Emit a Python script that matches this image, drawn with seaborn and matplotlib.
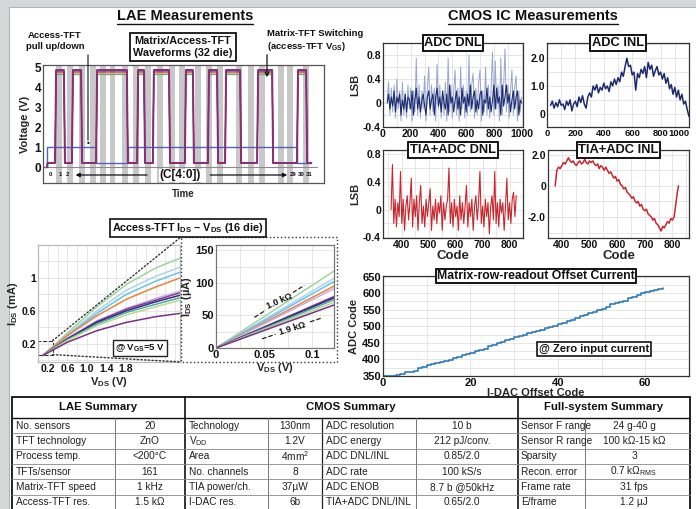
import numpy as np
import pandas as pd
import matplotlib
matplotlib.use("Agg")
import matplotlib.pyplot as plt
import seaborn as sns
from matplotlib import font_manager
from matplotlib.patches import Rectangle, ConnectionPatch
from matplotlib.ticker import AutoMinorLocator

W, H = 696, 509

# LAE waveforms (time axis in % of capture window)
pulse_starts = [4.3, 10.3, 18.9, 33.5, 39.1, 50.5, 58.7, 64.8, 76.2, 90.4]
pulse_ends = [7.8, 13.9, 30.2, 36.3, 45.2, 53.7, 62.3, 70.5, 81.9, 94.0]
pulse_highs = [4.66, 4.62, 4.74, 4.8, 4.85]
pulse_low = 0.2
trace_colors = ["#e0a050", "#6aae6e", "#c24a5a", "#3a3f8a", "#8c2d78"]
gate_t = [0.5, 1.6, 1.6, 18.9, 18.9, 30.2, 30.2, 90.4, 90.4, 95.5]
gate_v = [0, 0, 1, 1, 0.2, 0.2, 1, 1, 0.2, 0.2]
sample_starts = [4.6, 8.5, 12.8, 16.7, 20.3, 23.8, 28.1, 32.0, 36.3, 40.6, 44.8,
                 48.4, 54.1, 58.0, 61.9, 68.7, 73.0, 76.9, 83.6, 86.8, 92.5]

# Access-TFT I-V (16 die, 10 visible traces)
vds_full = [0.1, 0.6, 1.2, 1.8, 2.4, 2.9]
ids_full = [
    [0.06, 0.33, 0.65, 0.92, 1.12, 1.24],
    [0.06, 0.31, 0.60, 0.85, 1.02, 1.13],
    [0.06, 0.30, 0.57, 0.80, 0.96, 1.07],
    [0.06, 0.30, 0.54, 0.74, 0.89, 1.00],
    [0.06, 0.27, 0.48, 0.63, 0.75, 0.84],
    [0.06, 0.26, 0.47, 0.62, 0.73, 0.82],
    [0.06, 0.26, 0.46, 0.60, 0.71, 0.79],
    [0.06, 0.25, 0.44, 0.58, 0.68, 0.76],
    [0.06, 0.24, 0.42, 0.55, 0.65, 0.73],
    [0.06, 0.22, 0.36, 0.46, 0.53, 0.57],
]
vds_zoom = [0.0, 0.123]
ids_zoom_end = [118, 107, 102, 95, 91, 79, 77, 74, 70, 66]
die_colors = ["#9fd49a", "#a9d5ef", "#67c1e6", "#e8833a", "#c7b0e0",
              "#8b3a98", "#2b2d78", "#4fa9a3", "#bcd98e", "#7b2f86"]

# CMOS IC measurements
adc_dnl_light = [0.05, 0.35, -0.2, 0.25, -0.15, 0.3, -0.25, 0.4, -0.1, 0.2,
                 -0.3, 0.35, -0.2, 0.15, -0.25, 0.3, -0.1, 0.25, -0.3, 0.2,
                 -0.15, 0.75, -0.2, 0.3, -0.25, 0.2, -0.1, 0.45, -0.3, 0.25,
                 0.6, -0.2, 0.3, -0.15, 0.25, -0.3, 0.65, -0.1, 0.3, -0.25,
                 0.2, -0.2, 0.35, -0.3, 0.75, -0.15, 0.3, -0.25, 0.2, 0.55,
                 -0.2, 0.25, -0.3, 0.6, -0.1, 0.3, -0.25, 0.2, -0.2, 0.8,
                 -0.15, 0.3, 0.5, -0.25, 0.25, -0.2, 0.35, 0.55, -0.3, 0.2,
                 -0.15, 0.6, -0.2, 0.3, -0.25, 0.25, 0.85, -0.2, 0.7, -0.1,
                 0.3, -0.3, 0.75, -0.2, 0.25, 0.9, -0.15, 0.3, -0.25, 0.2,
                 0.55, -0.2, 0.25, 0.45, -0.3, 0.2, -0.15, 0.1]
adc_dnl_dark = [0.0, 0.15, -0.1, 0.1, -0.05, 0.2, -0.15, 0.1, 0.0, 0.15,
                -0.2, 0.05, -0.1, 0.15, -0.15, 0.1, 0.05, -0.1, 0.2, -0.2,
                0.05, 0.25, -0.1, 0.1, -0.15, 0.05, 0.15, -0.05, -0.2, 0.1,
                0.2, -0.1, 0.05, 0.15, -0.2, 0.1, 0.25, -0.05, 0.1, -0.15,
                0.2, 0.0, -0.1, 0.15, -0.2, 0.3, 0.0, 0.1, -0.15, 0.05,
                0.2, -0.1, 0.1, -0.2, 0.25, 0.0, 0.1, -0.15, 0.15, -0.05,
                0.3, -0.1, 0.1, 0.2, -0.15, 0.05, -0.1, 0.15, 0.2, -0.2,
                0.05, 0.0, 0.25, -0.1, 0.1, -0.15, 0.05, 0.3, -0.1, 0.25,
                0.0, 0.1, -0.2, 0.3, -0.05, 0.1, 0.3, 0.0, 0.15, -0.15,
                0.05, 0.2, -0.1, 0.1, 0.2, -0.2, 0.05, 0.0]
adc_dnl_code0, adc_dnl_step = 30, 10
adc_inl = [0.3, 0.45, 0.2, 0.4, 0.25, 0.5, 0.3, 0.35, 0.15, 0.45,
           0.3, 0.5, 0.1, 0.35, 0.45, 0.25, 0.6, 0.4, 0.65, 0.35,
           0.2, 0.6, 0.75, 0.6, 1.0, 0.85, 1.05, 0.75, 0.95, 0.85,
           1.1, 0.9, 1.0, 0.8, 1.15, 1.0, 1.25, 1.05, 1.3, 1.15,
           1.5, 1.35, 1.7, 2.0, 1.7, 1.75, 1.4, 1.5, 0.85, 1.45,
           1.3, 1.6, 1.45, 1.7, 1.3, 1.85, 1.6, 1.75, 1.35, 1.55,
           1.7, 1.4, 1.5, 1.25, 1.45, 1.1, 1.3, 0.9, 1.05, 0.7,
           0.95, 0.6, 0.85, 0.5, 0.7, 0.35, 0.45, 0.15, -0.1]
adc_inl_code0, adc_inl_step = 25, 12.5
tia_dnl = [0.0, 0.65, -0.2, 0.15, -0.25, 0.1, -0.1, 0.55, -0.2, 0.15,
           -0.3, 0.05, 0.2, -0.15, 0.1, 0.45, -0.25, 0.15, -0.1, 0.2,
           -0.3, 0.1, 0.35, -0.2, 0.05, -0.25, 0.15, -0.1, 0.1, 0.3,
           -0.3, 0.05, -0.15, 0.15, -0.2, 0.1, -0.05, 0.2, -0.3, 0.1,
           -0.15, 0.05, 0.15, 0.6, -0.2, 0.1, -0.25, 0.15, -0.1, 0.05,
           -0.3, 0.2, -0.15, 0.1, -0.2, 0.05, 0.35, -0.25, 0.1, -0.1,
           0.15, -0.3, 0.05, 0.2, -0.15, 0.1, 0.55, -0.2, 0.05, -0.25,
           0.15, -0.1, 0.1, -0.35, 0.05, 0.2, -0.15, 0.55, -0.2, 0.1,
           -0.25, 0.15, -0.05, 0.1, -0.3, 0.05, 0.45, -0.15, 0.1, -0.2,
           0.15, 0.25, -0.1, 0.2]
tia_dnl_code0, tia_dnl_step = 360, 5
tia_inl_code = [376, 382, 388, 394, 400, 406, 412, 418, 424, 430, 436, 441,
                447, 453, 459, 465, 471, 477, 483, 488, 494, 500, 506, 512,
                518, 524, 530, 535, 541, 547, 553, 559, 565, 571, 577, 582,
                588, 594, 600, 606, 612, 618, 624, 630, 636, 641, 647, 653,
                659, 665, 671, 676, 682, 688, 694, 700, 706, 712, 718, 724,
                729, 735, 741, 747, 753, 759, 765, 771, 776, 782, 788, 794,
                800, 806, 812, 818, 822]
tia_inl = [0.0, 1.0, 1.2, 1.1, 1.3, 1.5, 1.4, 1.6, 1.8, 1.6, 1.5, 1.6,
           1.4, 1.3, 1.5, 1.6, 1.4, 1.5, 1.7, 1.5, 1.4, 1.6, 1.5, 1.6,
           1.4, 1.3, 1.4, 1.1, 1.3, 1.2, 1.0, 1.2, 1.0, 0.8, 0.9, 0.7,
           0.5, 0.6, 0.3, 0.4, 0.1, 0.0, -0.2, -0.1, -0.4, -0.5, -0.6, -0.8,
           -0.7, -1.0, -1.1, -1.0, -1.3, -1.2, -1.5, -1.6, -1.5, -1.8, -1.9, -2.0,
           -2.2, -2.1, -2.4, -2.5, -2.7, -2.9, -2.6, -2.7, -2.5, -2.3, -2.4, -2.1,
           -2.2, -2.0, -1.2, -0.4, 0.0]
offset_adc = [350, 350, 351, 352, 357, 361, 362, 366, 374, 377, 382, 385, 389,
              391, 395, 399, 404, 408, 412, 417, 420, 424, 428, 432, 440, 445,
              449, 454, 459, 462, 467, 471, 474, 479, 482, 486, 490, 494, 497,
              502, 506, 511, 515, 520, 525, 530, 534, 540, 544, 548, 553, 559,
              567, 569, 572, 578, 585, 590, 595, 600, 603, 607, 610, 614, 617]

# Summary tables
lae_params = ["No. sensors", "TFT technology", "Process temp.", "TFTs/sensor",
              "Matrix-TFT speed", "Access-TFT res."]
lae_values = ["20", "ZnO", "<200°C", "161", "1 kHz", "1.5 kΩ"]
cmos_params1 = ["Technology", "V$_\\mathregular{DD}$", "Area", "No. channels",
                "TIA power/ch.", "I-DAC res."]
cmos_values1 = ["130nm", "1.2V", "4mm$^\\mathregular{2}$", "8", "37µW", "6b"]
cmos_params2 = ["ADC resolution", "ADC energy", "ADC DNL/INL", "ADC rate",
                "ADC ENOB", "TIA+ADC DNL/INL"]
cmos_values2 = ["10 b", "212 pJ/conv.", "0.85/2.0", "100 kS/s", "8.7 b @50kHz",
                "0.65/2.0"]
full_params = ["Sensor F range", "Sensor R range", "Sparsity", "Recon. error",
               "Frame rate", "E/frame"]
full_values = ["24 g-40 g", "100 kΩ-15 kΩ", "3", "0.7 kΩ$_\\mathregular{RMS}$",
               "31 fps", "1.2 µJ"]

sns.set_theme(style="white")
plt.rcParams["font.family"] = ["Liberation Sans", "DejaVu Sans"]
plt.rcParams["font.weight"] = "bold"
plt.rcParams["axes.labelweight"] = "bold"
plt.rcParams["mathtext.fontset"] = "custom"
plt.rcParams["mathtext.rm"] = "Liberation Sans"
plt.rcParams["mathtext.bf"] = "Liberation Sans:bold"
plt.rcParams["mathtext.default"] = "bf"
plt.rcParams["axes.edgecolor"] = "#333333"
plt.rcParams["text.color"] = "#111111"
plt.rcParams["xtick.color"] = "#111111"
plt.rcParams["ytick.color"] = "#111111"

# narrow face for the summary table if it is installed
try:
    font_manager.findfont("Liberation Sans Narrow", fallback_to_default=False)
    table_font, table_fs = ["Liberation Sans Narrow", "Liberation Sans"], 8.6
except ValueError:
    table_font, table_fs = ["Liberation Sans", "DejaVu Sans"], 7.3

fig = plt.figure(figsize=(W / 100, H / 100), dpi=100)
fig.patch.set_facecolor("#d6d7d9")

bg = fig.add_axes([0, 0, 1, 1], zorder=-5)
bg.set_xlim(0, W); bg.set_ylim(H, 0); bg.axis("off")
bg.add_patch(Rectangle((9, 7), W, H, fc="white", ec="#b5b5b5", lw=0.8))


def px_ax(x0, y0, x1, y1):
    return fig.add_axes([x0 / W, 1 - y1 / H, (x1 - x0) / W, (y1 - y0) / H])


def style(ax, fs=7.5, grid=True):
    ax.tick_params(labelsize=fs, length=2, width=0.6, pad=1.5, direction="in")
    for s in ax.spines.values():
        s.set_linewidth(0.9)
    if grid:
        ax.xaxis.set_minor_locator(AutoMinorLocator(2))
        ax.yaxis.set_minor_locator(AutoMinorLocator(2))
        ax.tick_params(which="minor", length=0)
        ax.grid(True, which="both", color="#e2e2e2", lw=0.6)
        ax.set_axisbelow(True)


def title_box(ax, text, fs=9.3):
    ax.text(0.5, 1.0, text, transform=ax.transAxes, ha="center", va="center",
            fontsize=fs, fontweight="bold", zorder=20,
            bbox=dict(boxstyle="square,pad=0.12", fc="white", ec="black", lw=1.3))


# ---------------- LAE waveform panel ----------------
ax_w = px_ax(43, 65, 324, 183)
ax_w.set_xlim(0, 100)
ax_w.set_ylim(-0.8, 5.1)
for s in sample_starts:
    ax_w.axvspan(s, s + 2.0, color="#c8c8c8", lw=0, zorder=0)
sns.lineplot(x=[0.5, 97.5], y=[0, 0], ax=ax_w, color="#8a8a8a", lw=0.8,
             estimator=None, sort=False)
sns.lineplot(x=gate_t, y=gate_v, ax=ax_w, color="#4a66b8", lw=1.0,
             estimator=None, sort=False)
for high, col in zip(pulse_highs, trace_colors):
    tt, vv = [1.5, 1.6], [0.0, pulse_low]
    for s, e in zip(pulse_starts, pulse_ends):
        tt += [s, s + 0.35, e - 0.35, e]
        vv += [pulse_low, high, high, pulse_low]
    tt.append(95.5); vv.append(pulse_low)
    main = col == "#8c2d78"
    sns.lineplot(x=tt, y=vv, ax=ax_w, color=col, lw=1.4 if main else 0.8,
                 estimator=None, sort=False)
ax_w.set_xticks([])
ax_w.set_yticks([0, 1, 2, 3, 4, 5])
ax_w.set_ylabel("Voltage (V)", fontsize=8, labelpad=3)
ax_w.set_xlabel("Time", fontsize=7, labelpad=4)
style(ax_w, fs=8.5, grid=False)
for s in ax_w.spines.values():
    s.set_color("#555555")
ax_w.text(48.8, -0.42, "(C[4:0])", ha="center", va="center", fontsize=8.5,
          bbox=dict(fc="white", ec="none", pad=0.5))
ax_w.annotate("", xy=(10.6, -0.4), xytext=(38, -0.4),
              arrowprops=dict(arrowstyle="-|>", lw=0.9, color="#111", mutation_scale=6))
ax_w.annotate("", xy=(87.9, -0.4), xytext=(58.5, -0.4),
              arrowprops=dict(arrowstyle="-|>", lw=0.9, color="#111", mutation_scale=6))
for t, lab in zip([2.7, 6.3, 8.8, 89.0, 91.8, 94.7], ["0", "1", "2", "29", "30", "31"]):
    ax_w.text(t, -0.4, lab, ha="center", va="center", fontsize=4.3)

# ---------------- Access-TFT I-V panel ----------------
ax_l = px_ax(38, 245, 180, 362)
rows = []
for i, ys in enumerate(ids_full):
    for x, y in zip(vds_full, ys):
        rows.append((i, x, y))
df_full = pd.DataFrame(rows, columns=["die", "vds", "ids"])
sns.lineplot(data=df_full, x="vds", y="ids", hue="die", palette=die_colors,
             ax=ax_l, lw=1.1, legend=False, estimator=None, sort=False)
ax_l.set_xlim(0, 2.9)
ax_l.set_ylim(-0.02, 1.4)
ax_l.set_xticks([0.2, 0.6, 1.0, 1.4, 1.8])
ax_l.set_xticklabels(["0.2", "0.6", "1.0", "1.4", "1.8"])
ax_l.set_yticks([0.2, 0.6, 1.0])
ax_l.set_yticklabels(["0.2", "0.6", "1"])
ax_l.set_xlabel("V$_{DS}$ (V)", fontsize=8, labelpad=1)
ax_l.set_ylabel("I$_{DS}$ (mA)", fontsize=8, labelpad=1)
style(ax_l, fs=7.5)
for s in ax_l.spines.values():
    s.set_color("#bbbbbb")
ax_l.add_patch(Rectangle((0.0, 0.07), 0.3, 0.17, fill=False, ls="--", lw=0.8, ec="#333"))
ax_l.text(0.72, 0.12, "@ V$_{GS}$=5 V", transform=ax_l.transAxes, ha="center",
          va="center", fontsize=6.8,
          bbox=dict(boxstyle="square,pad=0.2", fc="white", ec="#222", lw=1.0))

ax_i = px_ax(216, 245, 334, 348)
rows = []
for i, yend in enumerate(ids_zoom_end):
    for x, y in zip(vds_zoom, [0, yend]):
        rows.append((i, x, y))
df_zoom = pd.DataFrame(rows, columns=["die", "vds", "ids"])
sns.lineplot(data=df_zoom, x="vds", y="ids", hue="die", palette=die_colors,
             ax=ax_i, lw=1.1, legend=False, estimator=None, sort=False)
ax_i.set_xlim(0, 0.123)
ax_i.set_ylim(0, 158)
ax_i.set_xticks([0, 0.05, 0.1])
ax_i.set_xticklabels(["0", "0.05", "0.1"])
ax_i.set_yticks([0, 50, 100, 150])
ax_i.set_xlabel("V$_{DS}$ (V)", fontsize=8, labelpad=1)
ax_i.set_ylabel("I$_{DS}$ (µA)", fontsize=8, labelpad=1)
style(ax_i, fs=8)
for s in ax_i.spines.values():
    s.set_color("#777777")
for seg in [((0.040, 0.052), (47, 58)), ((0.080, 0.092), (85, 96)),
            ((0.048, 0.062), (14, 21)), ((0.098, 0.110), (40, 46))]:
    ax_i.plot(seg[0], seg[1], color="#222", lw=0.9, ls="--")
ax_i.text(0.066, 72, "1.0 kΩ", rotation=24, ha="center", va="center", fontsize=6.5)
ax_i.text(0.080, 29, "1.9 kΩ", rotation=17, ha="center", va="center", fontsize=6.5)

# ---------------- CMOS panels ----------------
ax_dnl = px_ax(383, 43, 523, 127)
x_dnl = adc_dnl_code0 + adc_dnl_step * np.arange(len(adc_dnl_light))
sns.lineplot(x=x_dnl, y=adc_dnl_light, ax=ax_dnl, color="#98a6cf", lw=0.7,
             estimator=None, sort=False)
x_dnl2 = adc_dnl_code0 + adc_dnl_step * np.arange(len(adc_dnl_dark))
sns.lineplot(x=x_dnl2, y=adc_dnl_dark, ax=ax_dnl, color="#1d2b6e", lw=0.8,
             estimator=None, sort=False)
ax_dnl.set_xlim(0, 1010); ax_dnl.set_ylim(-0.4, 1.0)
ax_dnl.set_xticks([0, 200, 400, 600, 800, 1000])
ax_dnl.set_yticks([-0.4, 0, 0.4, 0.8])
ax_dnl.set_yticklabels(["-0.4", "0", "0.4", "0.8"])
ax_dnl.set_ylabel("LSB", fontsize=8, labelpad=2)
style(ax_dnl)
title_box(ax_dnl, "ADC DNL")

ax_inl = px_ax(547, 43, 689, 127)
x_inl = adc_inl_code0 + adc_inl_step * np.arange(len(adc_inl))
sns.lineplot(x=x_inl, y=adc_inl, ax=ax_inl, color="#1d2b6e", lw=1.1,
             estimator=None, sort=False)
ax_inl.set_xlim(0, 1000); ax_inl.set_ylim(-0.48, 2.55)
ax_inl.set_xticks([0, 200, 400, 600, 800, 1000])
ax_inl.set_yticks([0, 1, 2])
ax_inl.set_yticklabels(["0", "1.0", "2.0"])
ax_inl.set_xlabel(""); ax_inl.set_ylabel("")
style(ax_inl)
ax_inl.tick_params(axis="x", labelsize=6.8)
ax_inl.get_xticklabels()[-1].set_horizontalalignment("right")
title_box(ax_inl, "ADC INL")

ax_tdnl = px_ax(383, 150, 523, 238)
x_tdnl = tia_dnl_code0 + tia_dnl_step * np.arange(len(tia_dnl))
sns.lineplot(x=x_tdnl, y=tia_dnl, ax=ax_tdnl, color="#c9252c", lw=0.8,
             estimator=None, sort=False)
ax_tdnl.set_xlim(330, 850); ax_tdnl.set_ylim(-0.41, 0.86)
ax_tdnl.set_xticks([400, 500, 600, 700, 800])
ax_tdnl.set_yticks([-0.4, 0, 0.4, 0.8])
ax_tdnl.set_yticklabels(["-0.4", "0", "0.4", "0.8"])
ax_tdnl.set_ylabel("LSB", fontsize=8, labelpad=2)
ax_tdnl.set_xlabel("Code", fontsize=9.5, labelpad=0)
style(ax_tdnl)
title_box(ax_tdnl, "TIA+ADC DNL")

ax_tinl = px_ax(548, 150, 689, 238)
sns.lineplot(x=tia_inl_code, y=tia_inl, ax=ax_tinl, color="#c9252c", lw=1.1,
             estimator=None, sort=False)
ax_tinl.set_xlim(350, 860); ax_tinl.set_ylim(-3.35, 2.3)
ax_tinl.set_xticks([400, 500, 600, 700, 800])
ax_tinl.set_yticks([-2, 0, 2])
ax_tinl.set_yticklabels(["-2.0", "0", "2.0"])
ax_tinl.set_xlabel("Code", fontsize=9.5, labelpad=0)
ax_tinl.set_ylabel("")
style(ax_tinl)
title_box(ax_tinl, "TIA+ADC INL")

ax_off = px_ax(383, 276, 689, 376)
sns.lineplot(x=np.arange(len(offset_adc)), y=offset_adc, ax=ax_off,
             color="#2f7bbd", lw=1.2, drawstyle="steps-post",
             estimator=None, sort=False)
ax_off.set_xlim(0, 70); ax_off.set_ylim(350, 652)
ax_off.set_xticks([0, 20, 40, 60])
ax_off.set_yticks([350, 400, 450, 500, 550, 600, 650])
ax_off.set_xlabel("I-DAC Offset Code", fontsize=8, labelpad=0)
ax_off.set_ylabel("ADC Code", fontsize=8, labelpad=2)
style(ax_off, fs=8)
title_box(ax_off, "Matrix-row-readout Offset Current", fs=8.8)
ax_off.text(0.69, 0.27, "@ Zero input current", transform=ax_off.transAxes,
            ha="center", va="center", fontsize=8,
            bbox=dict(boxstyle="square,pad=0.2", fc="white", ec="black", lw=1.1))

# ---------------- overlay: titles, annotations, tables ----------------
ov = fig.add_axes([0, 0, 1, 1], zorder=10)
ov.set_xlim(0, W); ov.set_ylim(H, 0); ov.axis("off"); ov.patch.set_alpha(0)

t1 = ov.text(185, 16, "LAE Measurements", ha="center", va="center", fontsize=10.5)
t2 = ov.text(533, 16, "CMOS IC Measurements", ha="center", va="center", fontsize=10.5)
ov.text(55, 41, "Access-TFT\npull up/down", ha="center", va="center",
        fontsize=6.8, linespacing=1.15)
ov.text(183, 47, "Matrix/Access-TFT\nWaveforms (32 die)", ha="center", va="center",
        fontsize=7.8, linespacing=1.15,
        bbox=dict(boxstyle="square,pad=0.3", fc="white", ec="#111", lw=1.3))
ov.text(267, 41, "Matrix-TFT Switching\n(access-TFT V$_{GS}$)", ha="left",
        va="center", fontsize=6.8, linespacing=1.15)
ov.annotate("", xy=(88, 143), xytext=(88, 52),
            arrowprops=dict(arrowstyle="-", lw=0.8, color="#111"))
ov.text(88, 143, "•", ha="center", va="center", fontsize=6)
ov.annotate("", xy=(267, 80), xytext=(267, 52),
            arrowprops=dict(arrowstyle="->", lw=0.9, color="#111", mutation_scale=7))

ov.text(188, 228, "Access-TFT I$_{DS}$ – V$_{DS}$ (16 die)", ha="center",
        va="center", fontsize=7.8,
        bbox=dict(boxstyle="square,pad=0.2", fc="white", ec="#111", lw=1.2))
ov.add_patch(Rectangle((181, 237), 156, 125, fill=False, ls=":", lw=1.0, ec="#333"))
for xa, xb in [((0.3, 0.24), (181, 237)), ((0.3, 0.07), (181, 362))]:
    con = ConnectionPatch(xyA=xa, coordsA=ax_l.transData, xyB=xb,
                          coordsB=ov.transData, ls=":", lw=1.0, color="#333")
    fig.add_artist(con)

# table
top, head_bot, row_h = 397, 418, 15.3
ov.plot([12, 690], [top, top], color="#111", lw=1.3)
ov.plot([12, 12], [top, H], color="#111", lw=1.3)
ov.plot([690, 690], [top, H], color="#111", lw=1.3)
ov.plot([12, 690], [head_bot, head_bot], color="#111", lw=1.0)
for xd in [185, 518]:
    ov.plot([xd, xd], [top, H], color="#111", lw=1.2)
for xd in [115, 268, 416, 585]:
    ov.plot([xd, xd], [head_bot, H], color="#777", lw=0.7)
ov.plot([322, 322], [head_bot, H], color="#222", lw=0.9)
for k in range(1, 6):
    yy = head_bot + k * row_h
    ov.plot([12, 690], [yy, yy], color="#888", lw=0.6)
for xc, txt in [(98, "LAE Summary"), (351, "CMOS Summary"), (604, "Full-system Summary")]:
    ov.text(xc, (top + head_bot) / 2, txt, ha="center", va="center", fontsize=8.2)
cols = [(lae_params, 16, "left"), (lae_values, 150, "center"),
        (cmos_params1, 189, "left"), (cmos_values1, 295, "center"),
        (cmos_params2, 326, "left"), (cmos_values2, 462, "center"),
        (full_params, 521, "left"), (full_values, 634, "center")]
for texts, xc, ha in cols:
    for k, txt in enumerate(texts):
        ov.text(xc, head_bot + (k + 0.5) * row_h, txt, ha=ha, va="center",
                fontsize=table_fs, fontweight="normal", color="#222",
                family=table_font)

# underline the two section titles
fig.canvas.draw()
for t in (t1, t2):
    bb = t.get_window_extent()
    ov.plot([bb.x0, bb.x1], [H - bb.y0 + 1, H - bb.y0 + 1], color="#111", lw=1.0)

fig.savefig("out.png", dpi=100, facecolor=fig.get_facecolor())
